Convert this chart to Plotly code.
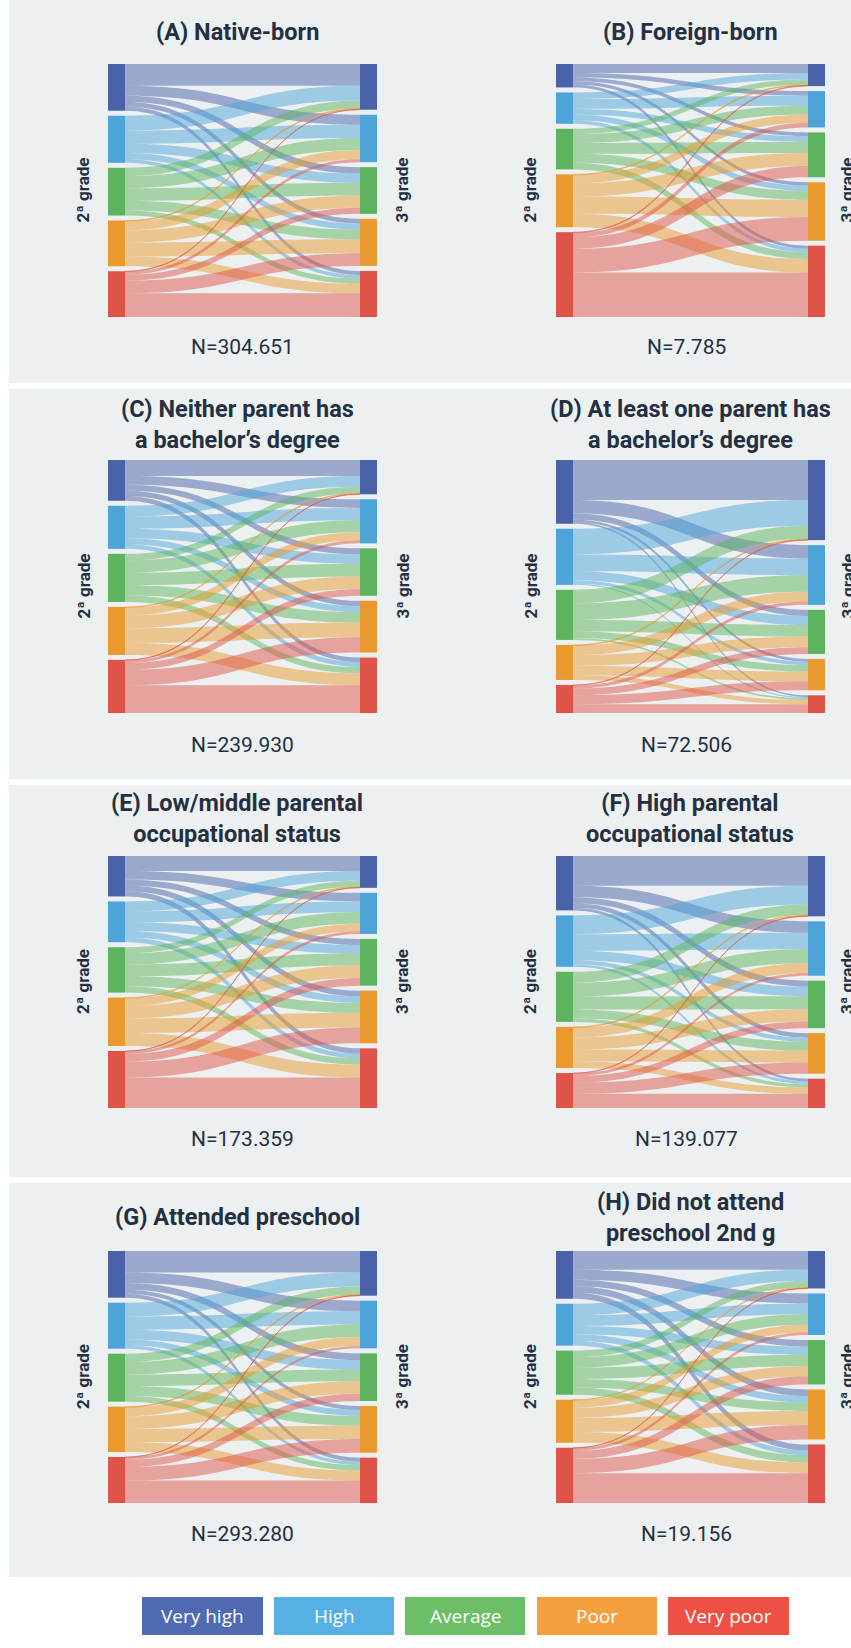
import plotly.graph_objects as go

W, H = 851, 1648

# Performance levels (same order for 2nd and 3rd grade)
grades = ["Very high", "High", "Average", "Poor", "Very poor"]
node_colors = ["#4a63a8", "#4ea4d8", "#5eb35e", "#e89a2e", "#df5349"]
legend_colors = ["#506ab2", "#57b0e3", "#6cbf67", "#f69f3e", "#ef5045"]

titles = [
    "(A) Native-born",
    "(B) Foreign-born",
    "(C) Neither parent has<br>a bachelor’s degree",
    "(D) At least one parent has<br>a bachelor’s degree",
    "(E) Low/middle parental<br>occupational status",
    "(F) High parental<br>occupational status",
    "(G) Attended preschool",
    "(H) Did not attend<br>preschool 2nd g",
]
sample_sizes = ["N=304.651", "N=7.785", "N=239.930", "N=72.506",
                "N=173.359", "N=139.077", "N=293.280", "N=19.156"]

# Transition weights: rows = 2nd-grade level, columns = 3rd-grade level
flows_a = [[65, 30, 19, 14, 12],
           [44, 40, 28, 18, 11],
           [25, 36, 38, 29, 15],
           [2, 27, 37, 42, 29],
           [1, 9, 18, 38, 71]]
flows_b = [[27, 14, 11, 10, 9],
           [20, 30, 18, 16, 11],
           [16, 27, 33, 27, 20],
           [2, 25, 40, 52, 41],
           [2, 14, 34, 72, 135]]
flows_c = [[48, 26, 18, 16, 14],
           [32, 37, 28, 18, 14],
           [20, 36, 38, 31, 19],
           [1.5, 24, 38, 44, 36],
           [1, 9, 20, 46, 83]]
flows_d = [[120, 40, 18, 8, 5],
           [77, 50, 27, 10, 4],
           [40, 50, 35, 20, 5],
           [2, 29, 32, 29, 13],
           [1, 10, 20, 27, 26]]
flows_e = [[45, 26, 18, 17, 16],
           [30, 33, 26, 20, 14],
           [18, 34, 36, 30, 19],
           [2, 23, 38, 44, 39],
           [1, 8, 23, 48, 92]]
flows_f = [[90, 35, 18, 14, 8],
           [57, 50, 29, 12, 8],
           [33, 42, 40, 27, 10],
           [2, 30, 37, 36, 20],
           [1, 8, 20, 34, 43]]
flows_g = [[65, 32, 20, 12, 12],
           [42, 40, 29, 18, 10],
           [25, 38, 35, 30, 17],
           [2, 27, 38, 40, 30],
           [1, 7, 22, 41, 68]]
flows_h = [[57, 31, 20, 20, 18],
           [35, 33, 25, 20, 15],
           [20, 32, 35, 26, 22],
           [1.5, 23, 31, 43, 33],
           [1, 8, 25, 44, 91]]

all_flows = [flows_a, flows_b, flows_c, flows_d, flows_e, flows_f, flows_g, flows_h]

# Panel geometry in pixels
sankey_x = [(108, 377), (556, 825)]
sankey_y = [(64, 317), (460, 713), (856, 1108), (1251, 1503)]
title_y = [32, 424, 819, 1217]
n_y = [347, 745, 1139, 1534]
bands = [(0, 383), (389, 779), (785, 1177), (1183, 1577)]
title_x = [237, 690]
n_x = [242, 686]
left_lab_x = [83, 530]
right_lab_x = [402, 847]

TITLE_COLOR = "#243042"
BAND_COLOR = "#ecf0f1"


def fx(px):
    return px / W


def fy(py):
    return 1 - py / H


def rgba(hex_color, a):
    h = hex_color.lstrip("#")
    r, g, b = int(h[0:2], 16), int(h[2:4], 16), int(h[4:6], 16)
    return f"rgba({r},{g},{b},{a})"


fig = go.Figure()
annotations = []
shapes = []

for r0, r1 in bands:
    shapes.append(dict(type="rect", xref="paper", yref="paper", layer="below",
                       x0=fx(9), x1=fx(W + 2), y0=fy(r1), y1=fy(r0),
                       fillcolor=BAND_COLOR, line=dict(width=0)))

for k, flows in enumerate(all_flows):
    col, row = k % 2, k // 2
    x0, x1 = sankey_x[col]
    y0, y1 = sankey_y[row]
    src, tgt, val, lcol = [], [], [], []
    for i in range(5):
        for j in range(5):
            src.append(i)
            tgt.append(5 + j)
            val.append(flows[i][j])
            lcol.append(rgba(node_colors[i], 0.5))
    fig.add_trace(go.Sankey(
        domain=dict(x=[fx(x0), fx(x1)], y=[fy(y1), fy(y0)]),
        node=dict(label=[""] * 10, pad=5, thickness=17,
                  color=node_colors + node_colors,
                  customdata=["2ª grade: " + g for g in grades] + ["3ª grade: " + g for g in grades],
                  hovertemplate="%{customdata}<extra></extra>",
                  line=dict(width=0)),
        link=dict(source=src, target=tgt, value=val, color=lcol,
                  line=dict(width=0)),
        textfont=dict(size=1, color="rgba(0,0,0,0)"),
    ))

    annotations.append(dict(text=titles[k], x=fx(title_x[col]), y=fy(title_y[row]),
                            xref="paper", yref="paper", xanchor="center", yanchor="middle",
                            showarrow=False,
                            font=dict(family="Roboto", size=23.5, color=TITLE_COLOR, weight="bold")))
    annotations.append(dict(text=sample_sizes[k], x=fx(n_x[col]), y=fy(n_y[row]),
                            xref="paper", yref="paper", xanchor="center", yanchor="middle",
                            showarrow=False,
                            font=dict(family="Roboto", size=21, color=TITLE_COLOR)))
    mid = (y0 + y1) / 2
    annotations.append(dict(text="2ª grade", x=fx(left_lab_x[col]), y=fy(mid),
                            xref="paper", yref="paper", xanchor="center", yanchor="middle",
                            textangle=-90, showarrow=False,
                            font=dict(family="Roboto", size=17, color=TITLE_COLOR, weight="bold")))
    annotations.append(dict(text="3ª grade", x=fx(right_lab_x[col]), y=fy(mid),
                            xref="paper", yref="paper", xanchor="center", yanchor="middle",
                            textangle=-90, showarrow=False,
                            font=dict(family="Roboto", size=17, color=TITLE_COLOR, weight="bold")))

# Colour key below the panels
legend_x = [(142, 263), (274, 394), (405, 525), (537, 657), (668, 789)]
legend_y = (1597, 1635)
for (lx0, lx1), name, c in zip(legend_x, grades, legend_colors):
    shapes.append(dict(type="rect", xref="paper", yref="paper",
                       x0=fx(lx0), x1=fx(lx1), y0=fy(legend_y[1]), y1=fy(legend_y[0]),
                       fillcolor=c, line=dict(width=0)))
    annotations.append(dict(text=name, x=fx((lx0 + lx1) / 2), y=fy(sum(legend_y) / 2),
                            xref="paper", yref="paper", xanchor="center", yanchor="middle",
                            showarrow=False,
                            font=dict(family="Liberation Sans Narrow, Open Sans", size=19,
                                      color="white")))

fig.update_layout(
    width=W, height=H, autosize=False,
    margin=dict(l=0, r=0, t=0, b=0),
    paper_bgcolor="white", plot_bgcolor="white",
    shapes=shapes, annotations=annotations,
    showlegend=False,
)

fig.write_html("out.html")
